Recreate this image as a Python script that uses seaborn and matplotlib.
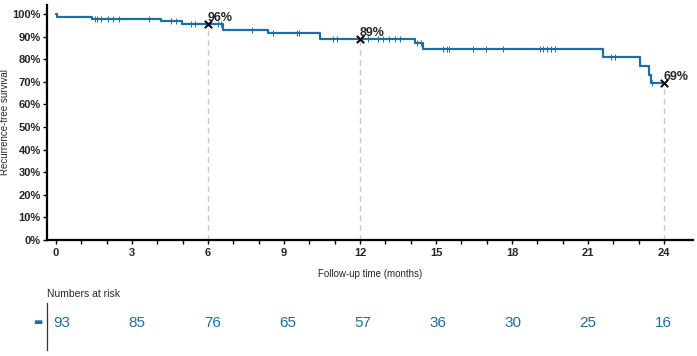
import numpy as np
import matplotlib
matplotlib.use("Agg")
import matplotlib.pyplot as plt
from matplotlib.ticker import PercentFormatter
import seaborn as sns

# Kaplan-Meier steps (months, % recurrence-free)
step_time = [0, 0.03, 1.41, 4.14, 4.96, 6.6, 8.38, 10.42, 14.17, 14.5, 21.6, 23.06, 23.42, 23.48, 24.0]
step_surv = [100, 98.9, 98.0, 96.9, 95.6, 92.9, 91.6, 88.8, 87.3, 84.4, 81.1, 77.2, 73.0, 69.3, 69.3]

# censored observations (months)
censor_time = [1.54, 1.63, 1.76, 2.03, 2.26, 2.49, 3.67, 4.54, 4.73, 5.33, 5.5, 6.4, 6.5,
               7.75, 8.55, 9.5, 9.59, 10.95, 11.08, 12.33, 12.7, 12.92, 13.16, 13.38, 13.58,
               14.27, 14.4, 15.27, 15.45, 15.53, 16.45, 16.98, 17.66, 19.1, 19.24, 19.37,
               19.53, 19.7, 21.9, 22.07, 23.53]

landmark_time = [6, 12, 24]

risk_time = [0, 3, 6, 9, 12, 15, 18, 21, 24]
at_risk = [93, 85, 76, 65, 57, 36, 30, 25, 16]

blue = "#1c6ea4"


def surv_at(t):
    idx = np.searchsorted(step_time, t, side="right") - 1
    return np.asarray(step_surv)[idx]


sns.set_style("ticks")
plt.rcParams["font.family"] = ["Liberation Sans", "DejaVu Sans"]

fig = plt.figure(figsize=(6.97, 3.56), dpi=100)
W, H = 697, 356
ax = fig.add_axes([47 / W, (H - 240) / H, (693 - 47) / W, (240 - 5) / H])

# landmark guides
lm_surv = surv_at(landmark_time)
ax.vlines(landmark_time, 0, lm_surv, colors="#c8c8c8", linestyles=(0, (4, 3)), lw=1, zorder=1)

# survival curve
sns.lineplot(x=step_time, y=step_surv, drawstyle="steps-post", color=blue, lw=1.6, ax=ax, zorder=3)
sns.scatterplot(x=censor_time, y=surv_at(censor_time), marker="|", s=14, color=blue,
                linewidth=0.7, ax=ax, zorder=4)

# landmark markers and labels
sns.scatterplot(x=landmark_time, y=lm_surv, marker="x", s=28, color="black", linewidth=1.4,
                ax=ax, zorder=5)
for t, s in zip(landmark_time, lm_surv):
    ax.annotate(f"{round(s)}%", (t, s), xytext=(0, 0), textcoords="offset points",
                ha="left", va="bottom", fontsize=9, fontweight="bold")

ax.set_xlim(-0.36, 25.15)
ax.set_ylim(0, 104)
ax.set_xticks(range(0, 25))
ax.set_xticklabels([str(m) if m % 3 == 0 else "" for m in range(0, 25)])
ax.set_yticks(range(0, 101, 10))
ax.yaxis.set_major_formatter(PercentFormatter(100, decimals=0))
for lab in ax.get_xticklabels() + ax.get_yticklabels():
    lab.set_fontweight("bold")
ax.tick_params(axis="both", length=3, width=1, labelsize=8, pad=1.5, color="black")
ax.tick_params(axis="x", pad=3)
sns.despine(ax=ax)
for sp in ["left", "bottom"]:
    ax.spines[sp].set_linewidth(1.6)
    ax.spines[sp].set_color("black")
ax.set_xlabel("Follow-up time (months)", fontsize=7, labelpad=8)
ax.set_ylabel("Recurrence-free survival", fontsize=7, labelpad=1.5)

# numbers at risk table
rax = fig.add_axes([47 / W, (H - 350) / H, (693 - 47) / W, (350 - 303) / H])
rax.set_xlim(-0.6, 25.2)
rax.set_ylim(0, 1)
for t, n in zip(risk_time, at_risk):
    rax.text(t, 0.58, str(n), ha="center", va="center", fontsize=11, color=blue)
rax.text(-0.007, 0.6, "▬", transform=rax.transAxes, ha="right", va="center",
         fontsize=7, color=blue, family="DejaVu Sans")
rax.text(0, 1.2, "Numbers at risk", transform=rax.transAxes, ha="left", va="center", fontsize=7.5)
rax.set_xticks([])
rax.set_yticks([])
for sp in ["top", "right", "bottom"]:
    rax.spines[sp].set_visible(False)
rax.spines["left"].set_linewidth(0.9)
rax.spines["left"].set_color("#333333")

fig.savefig("out.png", dpi=100)
